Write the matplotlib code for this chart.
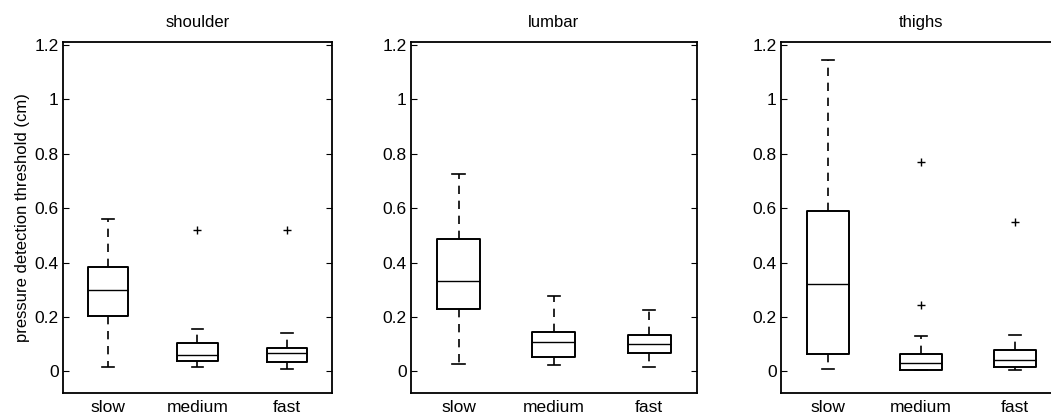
import matplotlib.pyplot as plt

plt.rcParams['font.family'] = ['Liberation Sans', 'DejaVu Sans']

speeds = ["slow", "medium", "fast"]
regions = ["shoulder", "lumbar", "thighs"]

# per region: [whislo, q1, median, q3, whishi] for slow, medium, fast
shoulder = [[0.015, 0.204, 0.300, 0.382, 0.561],
            [0.015, 0.040, 0.061, 0.104, 0.157],
            [0.010, 0.034, 0.067, 0.086, 0.141]]
lumbar = [[0.027, 0.228, 0.333, 0.487, 0.727],
          [0.024, 0.054, 0.108, 0.146, 0.277],
          [0.016, 0.067, 0.102, 0.132, 0.225]]
thighs = [[0.009, 0.065, 0.322, 0.588, 1.145],
          [0.005, 0.006, 0.031, 0.065, 0.129],
          [0.006, 0.016, 0.043, 0.077, 0.132]]
shoulder_out = [[], [0.518], [0.518]]
lumbar_out = [[], [], []]
thighs_out = [[], [0.769, 0.244], [0.549]]

all_data = [shoulder, lumbar, thighs]
all_out = [shoulder_out, lumbar_out, thighs_out]

positions = [[0.0599, 0.048, 0.256, 0.850],
             [0.391, 0.048, 0.272, 0.850],
             [0.743, 0.048, 0.267, 0.850]]

fig = plt.figure(figsize=(10.51, 4.13), dpi=100)

for i in range(3):
    ax = fig.add_axes(positions[i])
    stats = []
    for j in range(3):
        lo, q1, med, q3, hi = all_data[i][j]
        stats.append({"whislo": lo, "q1": q1, "med": med, "q3": q3,
                      "whishi": hi, "fliers": all_out[i][j], "label": speeds[j]})
    ax.bxp(stats, positions=[1, 2, 3], widths=0.45, capwidths=0.13,
           boxprops=dict(color="black", linewidth=1.4),
           whiskerprops=dict(color="black", linestyle=(0, (5, 4)), linewidth=1.2),
           capprops=dict(color="black", linewidth=1.2),
           medianprops=dict(color="black", linewidth=1.0),
           flierprops=dict(marker="+", markeredgecolor="black", markersize=6))
    ax.set_xlim(0.5, 3.5)
    ax.set_ylim(-0.08, 1.21)
    ax.set_yticks([0, 0.2, 0.4, 0.6, 0.8, 1, 1.2])
    ax.set_yticklabels(["0", "0.2", "0.4", "0.6", "0.8", "1", "1.2"])
    ax.tick_params(axis="y", direction="in", right=True, length=4, labelsize=12.5, pad=3)
    ax.tick_params(axis="x", direction="in", length=0, labelsize=12.5, pad=5)
    for s in ax.spines.values():
        s.set_linewidth(1.3)
    ax.set_title(regions[i], fontsize=12, pad=11)
    if i == 0:
        ax.set_ylabel("pressure detection threshold (cm)", fontsize=12, labelpad=3)

fig.savefig("out.png", dpi=100)
